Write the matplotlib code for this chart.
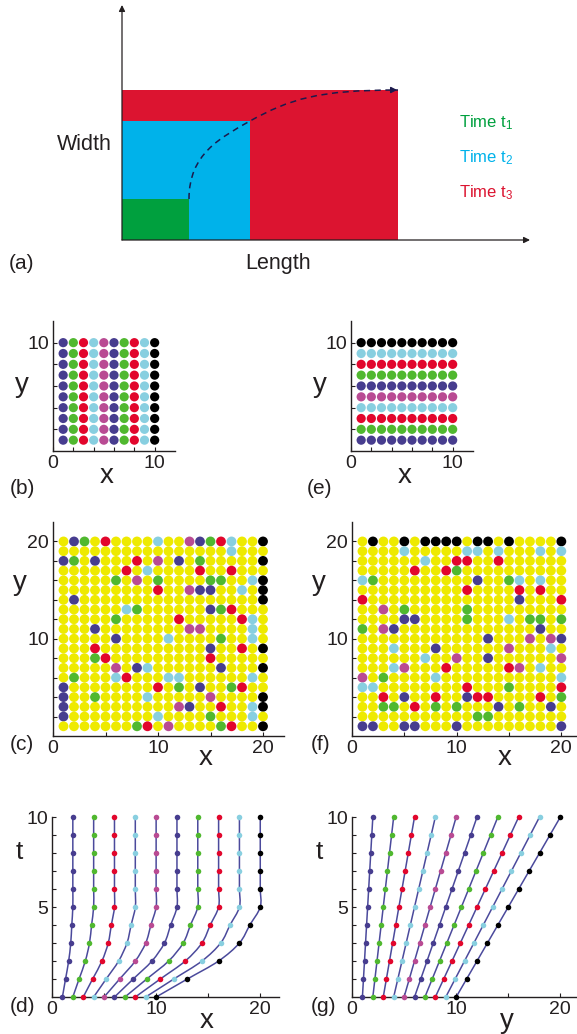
import matplotlib
matplotlib.use("Agg")
import matplotlib.pyplot as plt
from matplotlib.patches import Rectangle, PathPatch
from matplotlib.path import Path

plt.rcParams["font.family"] = ["Liberation Sans", "DejaVu Sans"]
plt.rcParams["mathtext.default"] = "regular"

# --- data -------------------------------------------------------------
# (a) rectangle size at times t1, t2, t3
time_names = ["Time t$_1$", "Time t$_2$", "Time t$_3$"]
lengths = [67, 128, 276]
widths = [41, 119, 150]

# colour code of the ten particles / columns
particle_codes = ["B", "G", "R", "C", "M", "B", "G", "R", "C", "K"]

# (c) 20x20 grid, rows from y=20 down to y=1
grid_c = [
    "YBGYRYYYYCYYMBGRCYYK",
    "YYYYYYYYYYYYYYYYCYYY",
    "BGYBYYYRYMYBYGYYYYYK",
    "YYYYYYRYCYYYYRYYRYYY",
    "YYYYYGYMYGYYYYGGYYCK",
    "YYYYYYYYYRYYMBBYYCYK",
    "YBYYYYYYYYYYYYYYYYYK",
    "YYYYYYCGYYYYYYBGRYYY",
    "YYYYYGYYYYYRYYYYYRCY",
    "YYYBYYYYYYYYMMYYYYCY",
    "YYYYYBYYYYCYYYYGYYCY",
    "YYYRYYYYYYYYYYBYYRYK",
    "YYYGRYYYYYYYYYRYYYYY",
    "YYYYYMYBCYYYYYYBYYYK",
    "YGYYYCRYYYCCYYYYYYCY",
    "BYYYYYYYYRYGYBYYGRYY",
    "BYYGYYYYCYYYYYMYYYYK",
    "BYYYYYYYYYYMBYYRYYCK",
    "BYYYYYYYYCYYYYGYYYCY",
    "YYYYYYYGRYMYYYYGRYYK",
]

# (f) 20x20 grid, rows from y=20 down to y=1
grid_f = [
    "YKYYKYKKKKYKKYKYYYYK",
    "YYYYCYYYYYCCYCYYYCYC",
    "YYYYYYCYYRRYYRYYYYYY",
    "YYYYYRYYRGYYYYYYYYYY",
    "CGYYYYYYYYYBYYGCYCYY",
    "YYYYYYYYYYRYYYYRYRYY",
    "RYYYYYYYYYYYYYYBYYYR",
    "YYMYGYYYYYGYYYYYYYYY",
    "YYYYBBYYYYGYYYCYGGYG",
    "GYMBYYYYYYYYYYYYYBYY",
    "YYYYYYYYYYYYBYYYMYMB",
    "YYYCYYYBYYYYYYMYYYCY",
    "YYYYYYCYYMYYBYYYYYYM",
    "YYYCMYYYRYYYYYRMYCYY",
    "MYGYYYYCYYYYYYYYYYYC",
    "CCYYYYYYYYRYYYGYYYYR",
    "YYRYBYYRYYBRRYYYYRYG",
    "YYGGYRYGYGYYYBYGYYBY",
    "YYYYYYYYYYYGGYYYYYYY",
    "BBYYBBYYYBYYYYYYYYYB",
]

# (d), (g) start position of each particle and stretch read at t = 0..10
start_pos = [1, 2, 3, 4, 5, 6, 7, 8, 9, 10]
times = [0, 1, 2, 3, 4, 5, 6, 7, 8, 9, 10]
stretch_x = [1.0, 1.3, 1.6, 1.8, 1.9, 2.0, 2.0, 2.0, 2.0, 2.0, 2.0]
stretch_y = [1.0, 1.1, 1.2, 1.3, 1.4, 1.5, 1.6, 1.7, 1.8, 1.9, 2.0]

# --- style ------------------------------------------------------------
palette = {
    "B": "#473d8f",
    "G": "#50b82f",
    "R": "#e2062c",
    "C": "#88cfe0",
    "M": "#b94b93",
    "K": "#000000",
    "Y": "#eeea00",
}
rect_colors = ["#00a03e", "#00b2ea", "#dc1430"]
ink = "#231f20"
line_col = "#4b4a9c"

W, H = 577, 1034
fig = plt.figure(figsize=(W / 100, H / 100), dpi=100)


def box(left, top, right, bottom):
    return [left / W, 1 - bottom / H, (right - left) / W, (bottom - top) / H]


def put(x, y, s, size, **kw):
    kw.setdefault("ha", "center")
    kw.setdefault("color", ink)
    fig.text(x / W, 1 - y / H, s, fontsize=size, va="center", **kw)


def style(ax, xmax, ymax, xticks, xlabels, yticks, ylabels):
    ax.set_xlim(0, xmax)
    ax.set_ylim(0, ymax)
    ax.patch.set_visible(False)
    for s in ["top", "right"]:
        ax.spines[s].set_visible(False)
    for s in ["left", "bottom"]:
        ax.spines[s].set_linewidth(1.0)
        ax.spines[s].set_color(ink)
    ax.set_xticks(xticks)
    ax.set_xticklabels(xlabels)
    ax.set_yticks(yticks)
    ax.set_yticklabels(ylabels)
    ax.tick_params(direction="in", length=3, width=0.8, colors=ink,
                   labelsize=14, pad=3)


def smooth(xs, ys):
    # bezier path through the points (catmull-rom tangents)
    pts = list(zip(xs, ys))
    n = len(pts)
    verts, codes = [pts[0]], [Path.MOVETO]
    for i in range(n - 1):
        p0, p1 = pts[max(i - 1, 0)], pts[i]
        p2, p3 = pts[i + 1], pts[min(i + 2, n - 1)]
        c1 = (p1[0] + (p2[0] - p0[0]) / 6, p1[1] + (p2[1] - p0[1]) / 6)
        c2 = (p2[0] - (p3[0] - p1[0]) / 6, p2[1] - (p3[1] - p1[1]) / 6)
        verts += [c1, c2, p2]
        codes += [Path.CURVE4] * 3
    return Path(verts, codes)


# --- (a) growth sketch -------------------------------------------------
ax = fig.add_axes(box(122, 5, 530, 240))
ax.set_xlim(0, 408)
ax.set_ylim(0, 235)
ax.axis("off")
for L, Wd, c in reversed(list(zip(lengths, widths, rect_colors))):
    ax.add_patch(Rectangle((0, 0), L, Wd, color=c, lw=0))

# dashed path through the corners
(L1, L2, L3), (W1, W2, W3) = lengths, widths
verts = [(L1, W1), (L1, W1 + 45), (L2 - 30, W2 - 17), (L2, W2),
         (L2 + 40, W2 + 22), (L3 - 80, W3), (L3, W3)]
codes = [Path.MOVETO] + [Path.CURVE4] * 6
ax.add_patch(PathPatch(Path(verts, codes), fill=False, ec="#1c1a4c",
                       lw=1.1, ls=(0, (4, 3))))
ax.annotate("", xy=(L3 + 2, W3), xytext=(L3 - 8, W3),
            arrowprops=dict(arrowstyle="-|>", color="#1c1a4c", lw=1,
                            mutation_scale=9))
# axes arrows
for end in [(408, 0), (0, 235)]:
    ax.annotate("", xy=end, xytext=(0, 0), annotation_clip=False,
                arrowprops=dict(arrowstyle="-|>", color=ink, lw=0.9,
                                mutation_scale=9, shrinkA=0, shrinkB=0))

put(84, 145, "Width", 15.5)
put(278, 264, "Length", 15.5)
put(22, 264, "(a)", 15)
for i, name in enumerate(time_names):
    put(459, 123 + i * 35, name, 12, ha="left", color=rect_colors[i])

# --- (b), (e) ordered 10x10 grids ---------------------------------------
for left, by_column, tag in [(53, True, "(b)"), (351, False, "(e)")]:
    ax = fig.add_axes(box(left, 321, left + 122, 451))
    xs, ys, cs = [], [], []
    for i in range(10):
        for j in range(10):
            xs.append(i + 1)
            ys.append(j + 1)
            cs.append(palette[particle_codes[i if by_column else j]])
    ax.scatter(xs, ys, c=cs, s=44, linewidths=0, zorder=3)
    style(ax, 12, 12, [0, 2, 4, 6, 8, 10], ["0", "", "", "", "", "10"],
          [2, 4, 6, 8, 10], ["", "", "", "", "10"])
    put(left + 54, 476, "x", 20)
    put(left - 31, 385, "y", 20)
    put(left - 31, 488, tag, 15)

# --- (c), (f) mixed 20x20 grids ----------------------------------------
for left, right, xmax, grid, tag in [(53, 284, 22, grid_c, "(c)"),
                                     (352, 576, 21.4, grid_f, "(f)")]:
    ax = fig.add_axes(box(left, 522, right, 736))
    xs, ys, cs = [], [], []
    for r, row in enumerate(grid):
        for k, code in enumerate(row):
            xs.append(k + 1)
            ys.append(20 - r)
            cs.append(palette[code])
    ax.scatter(xs, ys, c=cs, s=50, linewidths=0, zorder=3)
    style(ax, xmax, 22, [0, 5, 10, 15, 20], ["0", "", "10", "", "20"],
          list(range(2, 21, 2)),
          ["", "", "", "", "10", "", "", "", "", "20"])
    put(left + 153, 758, "x", 20)
    put(left - 33, 583, "y", 20)
    put(left - 31, 745, tag, 15)

# --- (d), (g) trajectories --------------------------------------------
for left, right, xmax, stretch, xl, tag in [
        (52, 279, 21.8, stretch_x, "x", "(d)"),
        (352, 576, 21.5, stretch_y, "y", "(g)")]:
    ax = fig.add_axes(box(left, 817, right, 997))
    for p, code in zip(start_pos, particle_codes):
        pos = [p * s for s in stretch]
        ax.add_patch(PathPatch(smooth(pos, times), fill=False, ec=line_col,
                               lw=1.1, zorder=2, clip_on=False))
        ax.scatter(pos, times, color=palette[code], s=16, linewidths=0,
                   zorder=3, clip_on=False)
    style(ax, xmax, 10, [0, 5, 10, 15, 20], ["0", "", "10", "", "20"],
          list(range(1, 11)), ["", "", "", "", "5", "", "", "", "", "10"])
    put(left + 155, 1021, xl, 20)
    put(left - 33, 852, "t", 19)
    put(left - 29, 1007, tag, 15)

fig.savefig("out.png", dpi=100)
